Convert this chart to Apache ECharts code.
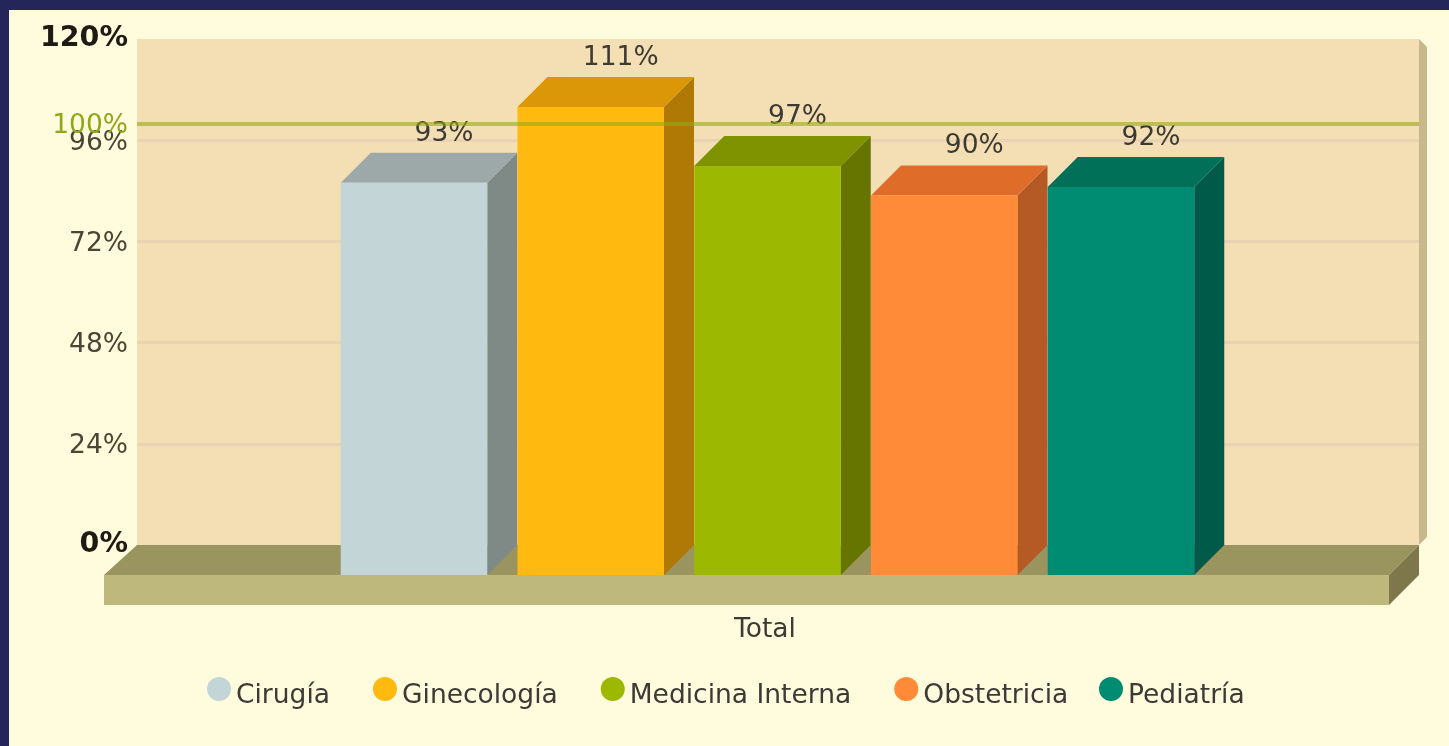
<!DOCTYPE html>
<html>
<head>
<meta charset="utf-8">
<style>
html,body{margin:0;padding:0;background:#FFFBDD;overflow:hidden}
#chart{position:absolute;left:0;top:0;width:1449px;height:746px}
.edge{position:absolute;background:#242659;z-index:5}
</style>
<script src="https://cdn.jsdelivr.net/npm/echarts@6/dist/echarts.min.js"></script>
</head>
<body>
<div id="chart"></div>
<div class="edge" style="left:0;top:0;width:1449px;height:10px"></div>
<div class="edge" style="left:0;top:0;width:9px;height:746px"></div>
<script>
const categories = ['Total'];
const departments = ['Cirugía', 'Ginecología', 'Medicina Interna', 'Obstetricia', 'Pediatría'];
const values = [93, 111, 97, 90, 92];
const targetValue = 100;
const frontColors = ['#C3D5D6', '#FFB90F', '#9DB800', '#FF8A37', '#008B73'];
const topColors = ['#9DA9A8', '#DB9708', '#7F9200', '#E06C2A', '#007059'];
const sideColors = ['#7F8A87', '#B07805', '#667400', '#B55A25', '#005A49'];

const FONT = '"DejaVu Sans", Verdana, sans-serif';
const FONT_SIZE = 26.5;
const DEPTH = 30, BAR_RATIO = 146.5 / 1282, PITCH_RATIO = 176.75 / 1282, SHIFT = -10.5;

function poly(points, fill, z2) {
  return { type: 'polygon', shape: { points }, style: { fill }, z2: z2 || 0 };
}

function renderBar(params, api) {
  const i = params.seriesIndex - 1;
  const band = api.size([1, 0])[0];
  const top = api.coord([api.value(0), api.value(1)]);
  const base = api.coord([api.value(0), 0]);
  const w = band * BAR_RATIO;
  const x0 = top[0] + (i - 2) * band * PITCH_RATIO + SHIFT - w / 2;
  const x1 = x0 + w;
  const yTop = top[1] + DEPTH;
  const yBase = base[1] + DEPTH;
  return {
    type: 'group',
    children: [
      poly([[x1, yTop], [x1 + DEPTH, yTop - DEPTH], [x1 + DEPTH, yBase - DEPTH], [x1, yBase]], sideColors[i]),
      poly([[x0, yTop], [x0 + DEPTH, yTop - DEPTH], [x1 + DEPTH, yTop - DEPTH], [x1, yTop]], topColors[i]),
      poly([[x0, yTop], [x1, yTop], [x1, yBase], [x0, yBase]], frontColors[i]),
      {
        type: 'text', z2: 10,
        x: (x0 + x1) / 2 + DEPTH, y: yTop - DEPTH - 19,
        style: { text: api.value(1) + '%', fill: '#3C3A34', fontSize: FONT_SIZE, fontFamily: FONT, textAlign: 'center', textVerticalAlign: 'middle' }
      }
    ]
  };
}

function renderFloor(params, api) {
  const cs = params.coordSys;
  const y = api.coord([0, 0])[1];
  const l = cs.x, r = cs.x + cs.width, t = cs.y;
  return {
    type: 'group',
    children: [
      poly([[r, t], [r + 8, t + 8], [r + 8, y - 8], [r, y]], '#C8B88A'),
      poly([[l, y], [r, y], [r - DEPTH, y + DEPTH], [l - 33, y + DEPTH]], '#9A945F'),
      poly([[l - 33, y + DEPTH], [r - DEPTH, y + DEPTH], [r - DEPTH, y + 2 * DEPTH], [l - 33, y + 2 * DEPTH]], '#BEB87C'),
      poly([[r - DEPTH, y + DEPTH], [r, y], [r, y + DEPTH], [r - DEPTH, y + 2 * DEPTH]], '#7D774B')
    ]
  };
}

const barSeries = departments.map((name, i) => ({
  name,
  type: 'custom',
  renderItem: renderBar,
  itemStyle: { color: frontColors[i] },
  encode: { x: 0, y: 1 },
  data: [[categories[0], values[i]]],
  z: 3
}));

barSeries[barSeries.length - 1].markLine = {
  silent: true,
  symbol: 'none',
  animation: false,
  z: 8,
  lineStyle: { color: 'rgba(150,170,20,0.6)', width: 4, type: 'solid' },
  label: {
    position: 'start', distance: 9,
    formatter: '{g|' + targetValue + '%}',
    rich: { g: { color: '#8FA81A', fontSize: FONT_SIZE, fontFamily: FONT, padding: [5, 0, 0, 0] } }
  },
  data: [{ yAxis: targetValue }]
};

function legendBlock(names, left) {
  return {
    left, top: 672,
    data: names.map(name => ({ name, icon: 'circle' })),
    itemWidth: 24, itemHeight: 24, itemGap: 43,
    selectedMode: false,
    formatter: name => '{t|' + name + '}',
    textStyle: {
      rich: { t: { fontSize: FONT_SIZE, fontFamily: FONT, color: '#3C3A34', padding: [14, 0, 0, 0] } }
    }
  };
}

const chart = echarts.init(document.getElementById('chart'), null, { renderer: 'canvas' });
chart.setOption({
  animation: false,
  backgroundColor: '#FFFBDD',
  grid: { left: 137, top: 39, width: 1282, height: 506, show: true, backgroundColor: '#F3DFB3', borderWidth: 0 },
  legend: [legendBlock(departments.slice(0, 4), 202), legendBlock(departments.slice(4), 1094)],
  xAxis: {
    type: 'category',
    data: categories,
    axisLine: { show: false },
    axisTick: { show: false },
    axisLabel: { margin: 72, fontSize: FONT_SIZE, fontFamily: FONT, color: '#3C3A34', padding: [0, 26, 0, 0] }
  },
  yAxis: {
    type: 'value',
    min: 0, max: 120, interval: 24,
    axisLine: { show: false },
    axisTick: { show: false },
    splitLine: { showMinLine: false, showMaxLine: false, lineStyle: { color: '#E9D3B3', width: 3 } },
    axisLabel: {
      margin: 9,
      formatter: v => (v === 0 || v === 120) ? '{b|' + v + '%}' : '{n|' + v + '%}',
      rich: {
        b: { fontSize: 28.5, fontWeight: 'bold', fontFamily: FONT, color: '#1E1A14' },
        n: { fontSize: FONT_SIZE, fontFamily: FONT, color: '#4E4436', padding: [5, 0, 0, 0] }
      }
    }
  },
  series: [
    { type: 'custom', renderItem: renderFloor, data: [[categories[0], 0]], encode: { x: 0, y: 1 }, z: 2, silent: true }
  ].concat(barSeries)
});
</script>
</body>
</html>
